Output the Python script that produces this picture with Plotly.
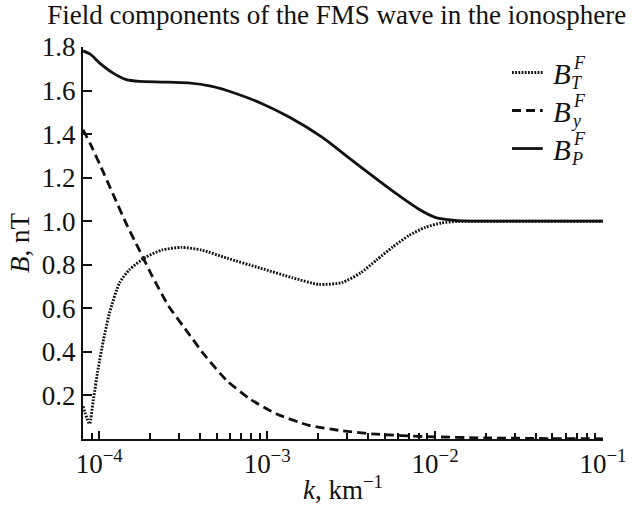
import plotly.graph_objects as go

# ---- data ----
k_P = [8.0e-5, 8.83e-5, 1.01e-4, 1.21e-4, 1.45e-4, 1.73e-4, 2.36e-4, 3.39e-4, 4.62e-4,
       6.31e-4, 9.06e-4, 1.36e-3, 2.12e-3, 3.32e-3, 5.60e-3, 8.02e-3, 1.0e-2, 1.37e-2,
       2.0e-2, 1.0e-1]
B_P = [1.782, 1.767, 1.725, 1.68, 1.65, 1.642, 1.639, 1.635, 1.62,
       1.59, 1.544, 1.477, 1.386, 1.270, 1.138, 1.055, 1.018, 1.003,
       1.0, 1.0]

k_T = [8.0e-5, 8.75e-5, 9.2e-5, 9.86e-5, 1.055e-4, 1.153e-4, 1.32e-4, 1.51e-4, 1.89e-4,
       2.37e-4, 3.09e-4, 4.05e-4, 5.79e-4, 9.06e-4, 1.42e-3, 2.03e-3, 2.78e-3, 3.59e-3,
       4.48e-3, 5.60e-3, 7.0e-3, 8.75e-3, 1.09e-2, 1.37e-2, 2.0e-2, 1.0e-1]
B_T = [0.15, 0.07, 0.176, 0.326, 0.447, 0.582, 0.717, 0.777, 0.835,
       0.868, 0.88, 0.868, 0.83, 0.785, 0.74, 0.71, 0.718, 0.762,
       0.822, 0.882, 0.935, 0.972, 0.992, 0.999, 1.0, 1.0]

k_y = [8.0e-5, 8.83e-5, 1.01e-4, 1.21e-4, 1.45e-4, 1.73e-4, 2.07e-4, 2.58e-4, 3.24e-4,
       4.23e-4, 5.79e-4, 7.93e-4, 1.13e-3, 1.77e-3, 2.78e-3, 4.48e-3, 8.75e-3, 2.0e-2,
       5.0e-2, 1.0e-1]
B_y = [1.42, 1.356, 1.259, 1.123, 0.988, 0.868, 0.747, 0.612, 0.507,
       0.386, 0.266, 0.183, 0.116, 0.063, 0.038, 0.022, 0.011, 0.005,
       0.002, 0.001]

x_major = [1e-4, 1e-3, 1e-2, 1e-1]
x_major_text = ["10<sup>\u22124</sup>", "10<sup>\u22123</sup>", "10<sup>\u22122</sup>", "10<sup>\u22121</sup>"]
x_minor = [9e-5] + [m * d for d in (1e-4, 1e-3, 1e-2) for m in range(2, 10)]
y_ticks = [0.2, 0.4, 0.6, 0.8, 1.0, 1.2, 1.4, 1.6, 1.8]
y_ticktext = ["0.2", "0.4", "0.6", "0.8", "1.0", "1.2", "1.4", "1.6", "1.8"]

legend_items = [("dotted", "T"), ("dashed", "y"), ("solid", "P")]

FONT = "Liberation Serif"
BLACK = "#111111"
FS = 27
DOT = "1.8px,1.4px"
DASH = "9px,5px"

fig = go.Figure()
fig.add_trace(go.Scatter(x=k_T, y=B_T, mode="lines",
                         line=dict(color=BLACK, width=2.9, dash=DOT, shape="spline", smoothing=0.6),
                         showlegend=False))
fig.add_trace(go.Scatter(x=k_y, y=B_y, mode="lines",
                         line=dict(color=BLACK, width=2.8, dash=DASH, shape="spline", smoothing=0.6),
                         showlegend=False))
fig.add_trace(go.Scatter(x=k_P, y=B_P, mode="lines",
                         line=dict(color=BLACK, width=2.8, shape="spline", smoothing=0.6),
                         showlegend=False))

# ---- hand-built legend (stacked super/subscripts) ----
dash_map = {"dotted": DOT, "dashed": DASH, "solid": "solid"}
leg_y = [0.935, 0.838, 0.741]
for (style, sub), ly in zip(legend_items, leg_y):
    fig.add_shape(type="line", xref="paper", yref="paper", x0=0.825, x1=0.884, y0=ly, y1=ly,
                  line=dict(color=BLACK, width=2.9 if style == "dotted" else 2.8, dash=dash_map[style]))
    fig.add_annotation(xref="paper", yref="paper", x=0.900, y=ly - 0.004, xanchor="left", yanchor="middle",
                       text="<i>B</i>", showarrow=False, font=dict(family=FONT, size=29, color=BLACK))
    fig.add_annotation(xref="paper", yref="paper", x=0.938, y=ly + 0.024, xanchor="left", yanchor="middle",
                       text="<i>F</i>", showarrow=False, font=dict(family=FONT, size=18, color=BLACK))
    fig.add_annotation(xref="paper", yref="paper", x=0.934, y=ly - 0.026, xanchor="left", yanchor="middle",
                       text="<i>%s</i>" % sub, showarrow=False, font=dict(family=FONT, size=18, color=BLACK))

fig.update_layout(
    width=639, height=512,
    margin=dict(l=83, r=24, t=47, b=67),
    paper_bgcolor="white", plot_bgcolor="white",
    font=dict(family=FONT, size=FS, color=BLACK),
    title=dict(text="Field components of the FMS wave in the ionosphere",
               x=0.527, xanchor="center", y=0.972, yanchor="middle",
               font=dict(family=FONT, size=27, color=BLACK)),
    showlegend=False,
)
fig.update_xaxes(type="log", range=[-4.0969, -1.0], showgrid=False, zeroline=False,
                 showline=True, linecolor=BLACK, linewidth=2, mirror=False,
                 tickmode="array", tickvals=x_major, ticktext=x_major_text,
                 ticks="inside", ticklen=8, tickwidth=1.5, tickcolor=BLACK,
                 tickfont=dict(family=FONT, size=FS, color=BLACK),
                 minor=dict(tickmode="array", tickvals=x_minor, ticks="inside", ticklen=6,
                            tickwidth=1.5, tickcolor=BLACK, showgrid=False),
                 title=dict(text="<i>k</i>, km<sup>\u22121</sup>", standoff=2,
                            font=dict(family=FONT, size=FS, color=BLACK)))
fig.update_yaxes(range=[0, 1.8], showgrid=False, zeroline=False,
                 showline=True, linecolor=BLACK, linewidth=2, mirror=False,
                 tickmode="array", tickvals=y_ticks, ticktext=y_ticktext,
                 ticks="inside", ticklen=9, tickwidth=1.5, tickcolor=BLACK,
                 tickfont=dict(family=FONT, size=FS, color=BLACK),
                 title=dict(text="<i>B</i>, nT", standoff=4,
                            font=dict(family=FONT, size=FS, color=BLACK)))

fig.write_html("out.html", config={"displayModeBar": False},
               post_script="document.body.style.margin='0';document.body.style.overflow='hidden';")
